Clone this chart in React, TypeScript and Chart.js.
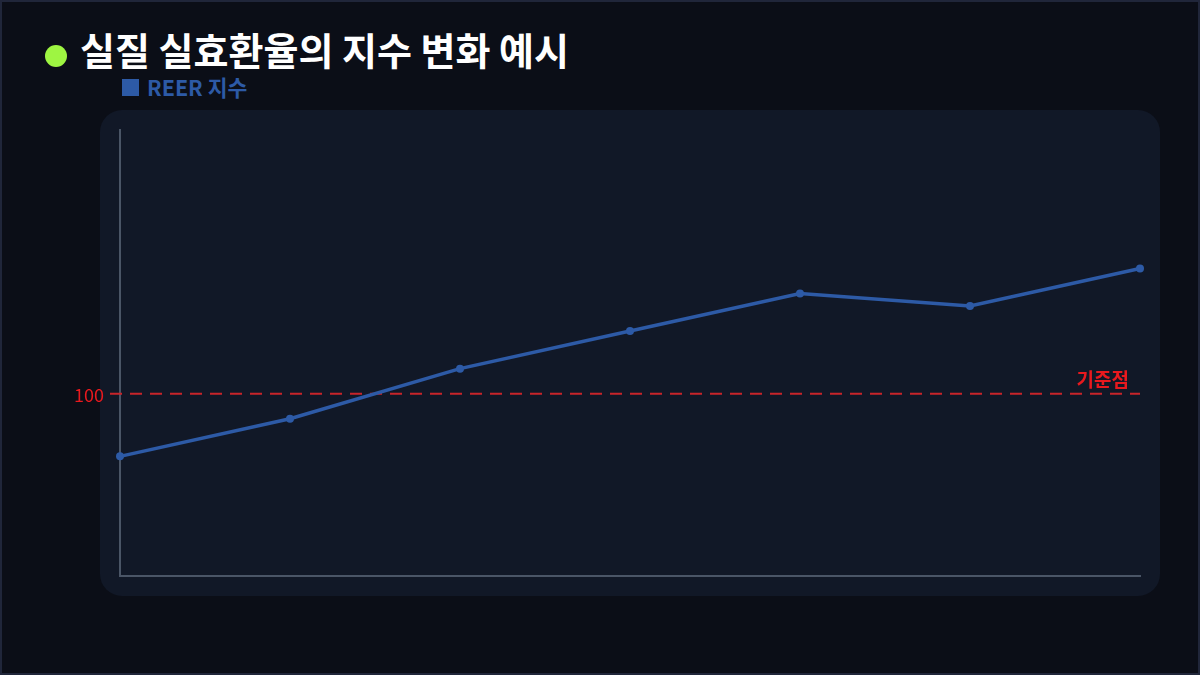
import React, { useEffect, useRef } from "react";
import { Chart, registerables } from "chart.js";

Chart.register(...registerables);

const TITLE = "실질 실효환율의 지수 변화 예시";
const SERIES_NAME = "REER 지수";
const categories = ["1기", "2기", "3기", "4기", "5기", "6기", "7기"];
const reerValues = [95, 98, 102, 105, 108, 107, 110];
const baseValue = 100;
const baseLabel = "기준점";

const FONT = '"Noto Sans CJK KR", "Noto Sans", sans-serif';

const baseLinePlugin = {
  id: "baseLine",
  beforeDatasetsDraw(chart: any) {
    const { ctx, chartArea, scales } = chart;
    const y = scales.y.getPixelForValue(baseValue);
    ctx.save();
    ctx.strokeStyle = "#c8242a";
    ctx.lineWidth = 2;
    ctx.setLineDash([12, 8]);
    ctx.beginPath();
    ctx.moveTo(chartArea.left - 10, y);
    ctx.lineTo(chartArea.right, y);
    ctx.stroke();
    ctx.setLineDash([]);
    ctx.fillStyle = "#e8191e";
    ctx.font = `400 18px ${FONT}`;
    ctx.textAlign = "right";
    ctx.textBaseline = "middle";
    ctx.fillText(String(baseValue), chartArea.left - 16, y + 1);
    ctx.font = `700 19px ${FONT}`;
    ctx.textBaseline = "bottom";
    ctx.fillText(baseLabel, chartArea.right - 11, y - 4);
    ctx.restore();
  },
};

export default function App() {
  const ref = useRef<HTMLCanvasElement | null>(null);

  useEffect(() => {
    document.body.style.margin = "0";
    if (!ref.current) return;
    const chart = new Chart(ref.current, {
      type: "line",
      data: {
        labels: categories,
        datasets: [
          {
            label: SERIES_NAME,
            data: reerValues,
            borderColor: "#2d5aa6",
            backgroundColor: "#2d5aa6",
            borderWidth: 3.5,
            pointRadius: 4,
            pointBorderWidth: 0,
            pointBackgroundColor: "#2d5aa6",
            tension: 0,
            clip: false as any,
          },
        ],
      },
      options: {
        animation: false,
        responsive: false,
        devicePixelRatio: 1,
        layout: { padding: { left: 120, right: 60, top: 130, bottom: 99 } },
        plugins: {
          legend: { display: false },
          tooltip: { enabled: false },
        },
        scales: {
          x: {
            grid: { display: false, drawTicks: false },
            ticks: { display: false },
            border: { display: true, color: "#4a5566", width: 2 },
          },
          y: {
            min: 85.45,
            max: 121.05,
            grid: { display: false, drawTicks: false },
            ticks: { display: false },
            border: { display: true, color: "#4a5566", width: 2 },
          },
        },
      },
      plugins: [baseLinePlugin],
    });
    return () => chart.destroy();
  }, []);

  return (
    <div
      style={{
        position: "fixed",
        left: 0,
        top: 0,
        width: 1200,
        height: 675,
        boxSizing: "border-box",
        background: "#0b0e17",
        border: "2px solid #20263a",
        overflow: "hidden",
        fontFamily: FONT,
      }}
    >
      <div
        style={{
          position: "absolute",
          left: 98,
          top: 108,
          width: 1060,
          height: 486,
          borderRadius: 22,
          background: "#111827",
        }}
      />
      <div
        style={{
          position: "absolute",
          left: 43,
          top: 43,
          width: 22,
          height: 22,
          borderRadius: "50%",
          background: "#9ef542",
        }}
      />
      <div
        style={{
          position: "absolute",
          left: 78,
          top: 21,
          color: "#ffffff",
          fontSize: 38,
          fontWeight: 700,
          lineHeight: "52px",
          whiteSpace: "nowrap",
        }}
      >
        {TITLE}
      </div>
      <div
        style={{
          position: "absolute",
          left: 120,
          top: 71,
          color: "#2d5aa6",
          fontSize: 21.5,
          fontWeight: 700,
          lineHeight: "28px",
          whiteSpace: "nowrap",
          display: "flex",
          alignItems: "center",
        }}
      >
        <span
          style={{
            display: "inline-block",
            width: 17,
            height: 17,
            background: "#2d5aa6",
            marginRight: 8,
          }}
        />
        {SERIES_NAME}
      </div>
      <canvas
        ref={ref}
        width={1200}
        height={675}
        style={{ position: "absolute", left: -2, top: -2, width: 1200, height: 675 }}
      />
    </div>
  );
}
